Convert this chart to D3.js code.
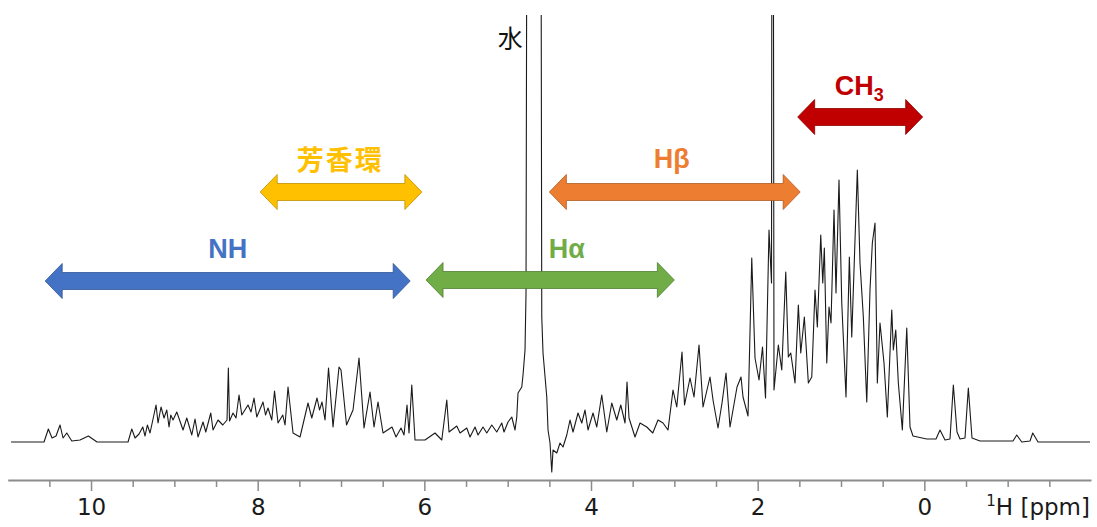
<html>

<head>
    <meta charset="utf-8">
    <title>1H NMR スペクトル</title>
    <style>
        body { margin: 0; background: #fff; }
    </style>
</head>

<body>
    <script src="https://cdn.jsdelivr.net/npm/d3@7"></script>
    <script>
        var width = 1097;
        var height = 527;

        // スペクトル (ppm, 強度)
        const ppm = [
            10.960, 10.564, 10.512, 10.468, 10.420, 10.372, 10.336, 10.291, 10.231, 10.132,
            10.032, 9.928, 9.556, 9.511, 9.472, 9.424, 9.379, 9.352, 9.324, 9.292,
            9.220, 9.196, 9.160, 9.124, 9.091, 9.064, 9.043, 9.016, 8.971, 8.896,
            8.851, 8.791, 8.752, 8.716, 8.656, 8.623, 8.563, 8.536, 8.476, 8.419,
            8.368, 8.352, 8.338, 8.296, 8.260, 8.224, 8.191, 8.116, 8.080, 8.044,
            8.011, 7.936, 7.906, 7.876, 7.831, 7.798, 7.756, 7.699, 7.672, 7.636,
            7.576, 7.492, 7.396, 7.351, 7.288, 7.258, 7.228, 7.192, 7.150, 7.096,
            7.024, 7.000, 6.934, 6.856, 6.784, 6.724, 6.652, 6.604, 6.556, 6.496,
            6.388, 6.340, 6.280, 6.244, 6.208, 6.184, 6.151, 6.112, 5.992, 5.872,
            5.791, 5.731, 5.704, 5.611, 5.572, 5.491, 5.452, 5.392, 5.356, 5.296,
            5.251, 5.191, 5.131, 5.071, 5.044, 4.996, 4.951, 4.912, 4.891, 4.876,
            4.831, 4.816, 4.792, 4.780, 4.756, 4.612, 4.591, 4.576, 4.531, 4.516,
            4.492, 4.471, 4.456, 4.411, 4.372, 4.336, 4.291, 4.252, 4.216, 4.156,
            4.111, 4.072, 4.036, 3.976, 3.931, 3.871, 3.811, 3.751, 3.691, 3.643,
            3.592, 3.568, 3.544, 3.472, 3.412, 3.331, 3.259, 3.196, 3.136, 3.076,
            3.016, 2.971, 2.908, 2.878, 2.812, 2.764, 2.704, 2.656, 2.572, 2.536,
            2.476, 2.428, 2.380, 2.332, 2.248, 2.200, 2.176, 2.116, 2.071, 2.032,
            1.984, 1.942, 1.906, 1.864, 1.834, 1.823, 1.821, 1.804, 1.752, 1.711,
            1.663, 1.632, 1.603, 1.552, 1.512, 1.483, 1.440, 1.392, 1.351, 1.312,
            1.284, 1.243, 1.219, 1.200, 1.171, 1.144, 1.120, 1.084, 1.060, 1.024,
            0.991, 0.940, 0.900, 0.871, 0.840, 0.804, 0.772, 0.732, 0.691, 0.652,
            0.624, 0.592, 0.564, 0.532, 0.484, 0.444, 0.391, 0.372, 0.343, 0.312,
            0.264, 0.211, 0.172, 0.136, -0.029, -0.140, -0.188, -0.248, -0.308, -0.348,
            -0.392, -0.428, -0.488, -0.528, -0.572, -0.668, -1.064, -1.109, -1.169, -1.268,
            -1.301, -1.364, -1.988
        ];
        const intensity = [
            0, 0, 13, 4, 6, 17, 4, 9, 1, 2,
            6, 0, 0, 13, 4, 8, 15, 6, 17, 9,
            37, 19, 35, 24, 32, 15, 27, 22, 30, 12,
            24, 7, 23, 5, 20, 10, 29, 12, 22, 17,
            22, 74, 21, 29, 24, 47, 27, 37, 30, 44,
            25, 40, 27, 34, 22, 51, 19, 27, 17, 55,
            9, 5, 39, 24, 44, 32, 40, 22, 74, 15,
            75, 72, 17, 32, 84, 14, 50, 15, 40, 9,
            15, 5, 14, 7, 37, 9, 57, 2, 2, 9,
            2, 42, 10, 16, 9, 14, 5, 15, 7, 15,
            9, 17, 10, 19, 10, 20, 25, 12, 25, 49,
            55, 67, 92, 149, 1100, 1100, 125, 89, 45, 12,
            -1, -30, -8, -11, -1, -5, 7, 22, 10, 29,
            19, 32, 12, 29, 15, 47, 10, 39, 22, 37,
            19, 60, 24, 5, 19, 15, 9, 22, 19, 12,
            52, 35, 90, 37, 64, 45, 97, 35, 65, 42,
            14, 39, 69, 15, 55, 65, 45, 26, 184, 84,
            62, 95, 44, 212, 159, 1100, 1100, 52, 97, 72,
            170, 85, 89, 59, 137, 89, 125, 59, 65, 152,
            115, 207, 159, 194, 79, 135, 119, 232, 149, 262,
            139, 45, 185, 105, 182, 272, 179, 125, 40, 152,
            199, 219, 59, 119, 79, 25, 132, 92, 112, 59,
            12, 114, 15, 6, 3, 3, 12, 2, 3, 57,
            10, 3, 4, 54, 4, 1, 1, 7, 0, 1,
            9, 0, 0
        ];

        // 帰属領域 (ppm)
        const regionNames = ["NH", "芳香環", "Hα", "Hβ", "CH3"];
        const regionFrom = [10.55, 7.97, 5.98, 4.50, 1.52];
        const regionTo = [6.17, 6.03, 3.00, 1.49, 0.02];
        const regionLabelAt = [8.36, 7.01, 4.29, 3.03, 0.78];

        const majorTicks = [10, 8, 6, 4, 2, 0];
        const minorTicks = [10.5, 9.5, 9, 8.5, 7.5, 7, 6.5, 5.5, 5, 4.5, 3.5, 3, 2.5, 1.5, 1, 0.5, -0.5, -1, -1.5];
        const waterLabelPpm = 4.97;

        // 描画スタイル
        const regionColor = ["#4472C4", "#FFC000", "#70AD47", "#ED7D31", "#C00000"];
        const regionStroke = ["#2F5597", "#BF9000", "#507E32", "#AE5A21", "#8F0000"];
        const regionRowY = [281, 192, 280, 192, 117];
        const labelRowY = [258, 170, 258, 168, 95];

        var svg = d3.select("body").append("svg")
            .attr("width", width)
            .attr("height", height)
            .style("font-family", "'DejaVu Sans', sans-serif");

        var x = d3.scaleLinear()
            .domain([11, -2])
            .range([7.7, 1091]);

        var y = d3.scaleLinear()
            .domain([0, 428])
            .range([442, 14]);

        svg.append("defs").append("clipPath")
            .attr("id", "plotClip")
            .append("rect")
            .attr("x", 0)
            .attr("y", 15)
            .attr("width", width)
            .attr("height", 470);

        // スペクトル
        var points = ppm.map((p, i) => [p, intensity[i]]);
        var line = d3.line()
            .x(d => x(d[0]))
            .y(d => y(d[1]));

        svg.append("path")
            .datum(points)
            .attr("clip-path", "url(#plotClip)")
            .attr("fill", "none")
            .attr("stroke", "#1a1a1a")
            .attr("stroke-width", 1.1)
            .attr("stroke-linejoin", "round")
            .attr("d", line);

        // 軸
        var axisG = svg.append("g").attr("transform", "translate(0,480)");
        axisG.call(d3.axisBottom(x).tickValues(minorTicks).tickSize(7).tickSizeOuter(0).tickFormat(""));
        var majorG = svg.append("g").attr("transform", "translate(0,480)");
        majorG.call(d3.axisBottom(x).tickValues(majorTicks).tickSize(11).tickPadding(8).tickFormat(d3.format("d")));
        majorG.select(".domain").remove();

        svg.selectAll(".domain")
            .attr("stroke", "#8c8c8c")
            .attr("stroke-width", 2);
        svg.selectAll(".tick line")
            .attr("stroke", "#8c8c8c")
            .attr("stroke-width", 1.5);
        majorG.selectAll(".tick text")
            .attr("fill", "#1a1a1a")
            .style("font-size", "23px")
            .style("font-family", "'DejaVu Sans', sans-serif");

        var title = svg.append("text")
            .attr("x", 1090)
            .attr("y", 515)
            .attr("text-anchor", "end")
            .attr("fill", "#1a1a1a")
            .style("font-size", "23px");
        title.append("tspan").text("1").style("font-size", "15px").attr("dy", -9);
        title.append("tspan").text("H [ppm]").attr("dy", 9);

        // 水
        svg.append("text")
            .attr("x", x(waterLabelPpm))
            .attr("y", 48)
            .attr("text-anchor", "middle")
            .attr("fill", "#111")
            .style("font-family", "'Noto Sans CJK JP', sans-serif")
            .style("font-size", "25px")
            .text("水");

        // 両矢印
        function arrowPath(x1, x2, cy) {
            var h = 8.5, H = 17.5, L = 17;
            return "M" + x1 + "," + cy +
                "L" + (x1 + L) + "," + (cy - H) +
                "L" + (x1 + L) + "," + (cy - h) +
                "L" + (x2 - L) + "," + (cy - h) +
                "L" + (x2 - L) + "," + (cy - H) +
                "L" + x2 + "," + cy +
                "L" + (x2 - L) + "," + (cy + H) +
                "L" + (x2 - L) + "," + (cy + h) +
                "L" + (x1 + L) + "," + (cy + h) +
                "L" + (x1 + L) + "," + (cy + H) + "Z";
        }

        var regions = svg.append("g");
        regions.selectAll("path")
            .data(regionNames)
            .enter()
            .append("path")
            .attr("fill", (d, i) => regionColor[i])
            .attr("stroke", (d, i) => regionStroke[i])
            .attr("stroke-width", 0.8)
            .attr("d", (d, i) => arrowPath(x(regionFrom[i]), x(regionTo[i]), regionRowY[i]));

        var labels = regions.selectAll("text")
            .data(regionNames)
            .enter()
            .append("text")
            .attr("x", (d, i) => x(regionLabelAt[i]))
            .attr("y", (d, i) => labelRowY[i])
            .attr("text-anchor", "middle")
            .attr("fill", (d, i) => regionColor[i])
            .style("font-weight", "bold")
            .style("font-size", "27px")
            .style("letter-spacing", d => d === "芳香環" ? "2px" : null)
            .style("font-family", d => d === "芳香環" ? "'Noto Sans CJK JP', sans-serif" : "'Liberation Sans', Arial, sans-serif");

        labels.each(function (d) {
            var t = d3.select(this);
            if (d === "CH3") {
                t.append("tspan").text("CH");
                t.append("tspan").text("3").style("font-size", "18px").attr("dy", 6);
            } else {
                t.text(d);
            }
        });
    </script>

</body>

</html>
